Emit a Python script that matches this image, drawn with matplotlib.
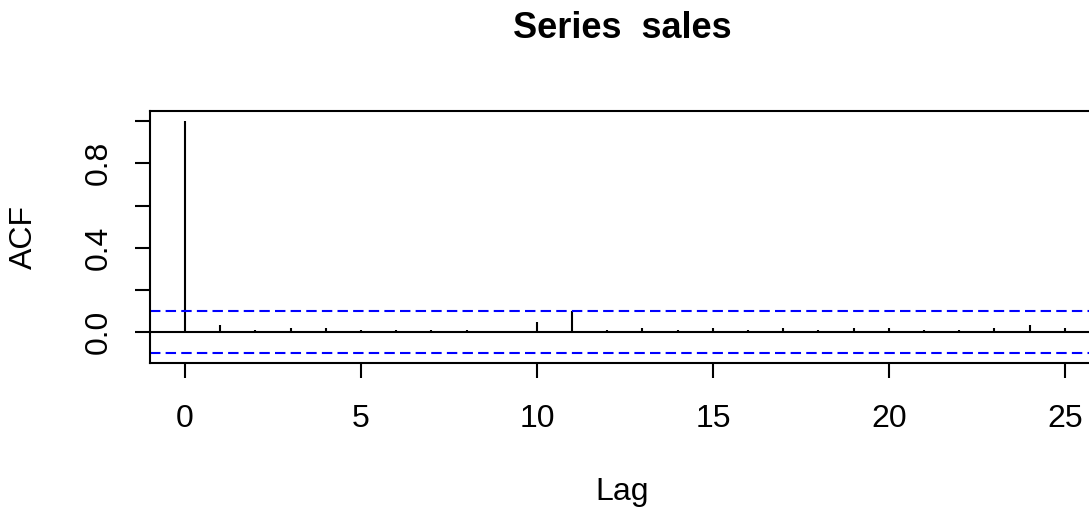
import numpy as np
import matplotlib
matplotlib.use("Agg")
import matplotlib.pyplot as plt

matplotlib.rcParams['font.family'] = ['Liberation Sans', 'DejaVu Sans']

# autocorrelation of the sales series, lags 0..25
lags = np.arange(0, 26)
acf_vals = [1.0, 0.033, 0.012, 0.021, 0.021, 0.012, 0.012, 0.012, 0.012, 0.003,
            0.048, 0.100, 0.012, 0.021, 0.012, 0.021, 0.012, 0.021, 0.012, 0.021,
            0.021, 0.012, 0.012, 0.021, 0.033, 0.021]
n_obs = 388
conf_bound = 1.96 / np.sqrt(n_obs)

x_ticks = [0, 5, 10, 15, 20, 25]
y_ticks = [0.0, 0.2, 0.4, 0.6, 0.8, 1.0]
y_tick_labels = ['0.0', '', '0.4', '', '0.8', '']

W, H = 1089, 511
fig = plt.figure(figsize=(W / 100, H / 100), dpi=100)
# plot region runs slightly past the right edge of the figure
ax = fig.add_axes([149.8 / W, 1 - 363 / H, 950.2 / W, 252 / H])

lw = 1.5
ax.vlines(lags, 0, acf_vals, color='black', lw=lw)
ax.axhline(0, color='black', lw=lw)
for b in (conf_bound, -conf_bound):
    ax.axhline(b, color='#0000FF', lw=lw, linestyle=(0, (5, 2.5)))

ax.set_xlim(-1, 26)
ax.set_ylim(-0.1453, 1.0476)

ax.set_xticks(x_ticks)
ax.set_xticklabels([str(t) for t in x_ticks])
ax.set_yticks(y_ticks)
ax.set_yticklabels(y_tick_labels, rotation=90, va='center')
ax.tick_params(axis='both', length=11, width=lw, labelsize=23, color='black')
ax.tick_params(axis='x', pad=18.5)
ax.tick_params(axis='y', pad=15)
for s in ax.spines.values():
    s.set_linewidth(lw)

fig.text(622 / W, 1 - 28 / H, 'Series  sales', ha='center', va='center',
         fontsize=26, fontweight='bold')
fig.text(622 / W, 1 - 492 / H, 'Lag', ha='center', va='center', fontsize=23)
fig.text(23.5 / W, 1 - 237 / H, 'ACF', ha='center', va='center',
         fontsize=23, rotation=90)

fig.savefig('out.png', dpi=100)
